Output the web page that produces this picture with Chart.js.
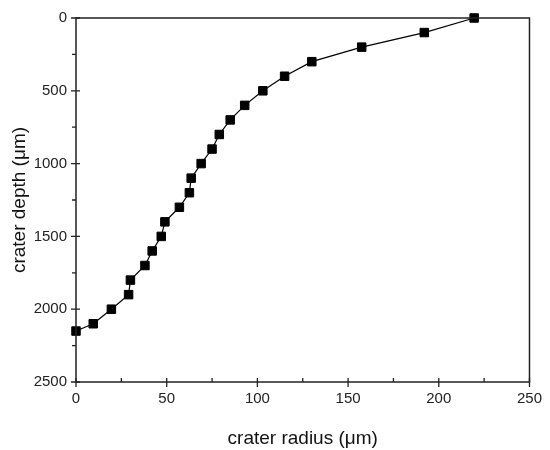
<!DOCTYPE html>
<html>
<head>
<meta charset="utf-8">
<script src="https://cdn.jsdelivr.net/npm/chart.js@4"></script>
<style>
  html, body { margin: 0; padding: 0; background: #fff; }
  #wrap { width: 550px; height: 450px; }
</style>
</head>
<body>
<div id="wrap"><canvas id="myChart"></canvas></div>
<script>
  // values
  var radius = [219.5, 192, 157.5, 130, 115, 103, 93, 85, 79, 75, 69, 63.5, 62.5, 57, 49, 47, 42, 38, 30, 29, 19.5, 9.5, 0];
  var depth = [0, 100, 200, 300, 400, 500, 600, 700, 800, 900, 1000, 1100, 1200, 1300, 1400, 1500, 1600, 1700, 1800, 1900, 2000, 2100, 2150];

  var xLabelTicks = [0, 50, 100, 150, 200, 250];
  var yLabelTicks = [0, 500, 1000, 1500, 2000, 2500];

  var points = radius.map(function (r, i) { return { x: r, y: depth[i] }; });

  // draws the box and the Origin-style ticks (major crossing, minor inward)
  var frame = {
    id: 'frame',
    afterDraw: function (chart) {
      var c = chart.ctx, a = chart.chartArea;
      var xs = chart.scales.x, ys = chart.scales.y;
      c.save();
      c.strokeStyle = '#222';
      c.lineWidth = 1.5;
      c.strokeRect(a.left, a.top, a.right - a.left, a.bottom - a.top);
      c.lineWidth = 1.3;
      c.beginPath();
      xs.ticks.forEach(function (t) {
        var px = xs.getPixelForValue(t.value);
        if (xLabelTicks.indexOf(t.value) >= 0) {
          c.moveTo(px, a.bottom - 4); c.lineTo(px, a.bottom + 5);
        } else {
          c.moveTo(px, a.bottom); c.lineTo(px, a.bottom - 4);
        }
      });
      ys.ticks.forEach(function (t) {
        var py = ys.getPixelForValue(t.value);
        if (yLabelTicks.indexOf(t.value) >= 0) {
          c.moveTo(a.left - 5, py); c.lineTo(a.left + 4, py);
        } else {
          c.moveTo(a.left, py); c.lineTo(a.left - 4, py);
        }
      });
      c.stroke();
      c.restore();
    }
  };

  var ctx = document.getElementById('myChart').getContext('2d');

  var chart = new Chart(ctx, {
    type: 'line',
    data: {
      datasets: [{
        data: points,
        borderColor: '#000',
        borderWidth: 1.2,
        backgroundColor: '#000',
        pointStyle: 'rect',
        pointRadius: 6,
        pointBorderWidth: 1,
        pointBorderColor: '#000',
        tension: 0,
        clip: false
      }]
    },
    options: {
      responsive: true,
      maintainAspectRatio: false,
      animation: false,
      layout: { padding: { top: 16, right: 17, left: 0, bottom: 0 } },
      plugins: {
        legend: { display: false },
        tooltip: { enabled: false }
      },
      scales: {
        x: {
          type: 'linear',
          min: 0,
          max: 250,
          afterFit: function (s) { s.height = 68; },
          grid: { drawOnChartArea: false, drawTicks: false },
          border: { display: false },
          ticks: {
            stepSize: 25,
            padding: 8,
            maxRotation: 0,
            color: '#222',
            font: { family: 'Liberation Sans', size: 15 },
            callback: function (v) { return xLabelTicks.indexOf(v) >= 0 ? v : ''; }
          },
          title: {
            display: true,
            text: 'crater radius (\u03bcm)',
            color: '#111',
            font: { family: 'Liberation Sans', size: 19 },
            padding: { top: 0, bottom: 0 }
          }
        },
        y: {
          type: 'linear',
          reverse: true,
          min: 0,
          max: 2500,
          afterFit: function (s) { s.width = 76; },
          grid: { drawOnChartArea: false, drawTicks: false },
          border: { display: false },
          ticks: {
            stepSize: 250,
            padding: 9,
            color: '#222',
            font: { family: 'Liberation Sans', size: 15 },
            callback: function (v) { return yLabelTicks.indexOf(v) >= 0 ? v : ''; }
          },
          title: {
            display: true,
            text: 'crater depth (\u03bcm)',
            color: '#111',
            font: { family: 'Liberation Sans', size: 19 },
            padding: { top: 8, bottom: 0 }
          }
        }
      }
    },
    plugins: [frame]
  });
</script>
</body>
</html>
